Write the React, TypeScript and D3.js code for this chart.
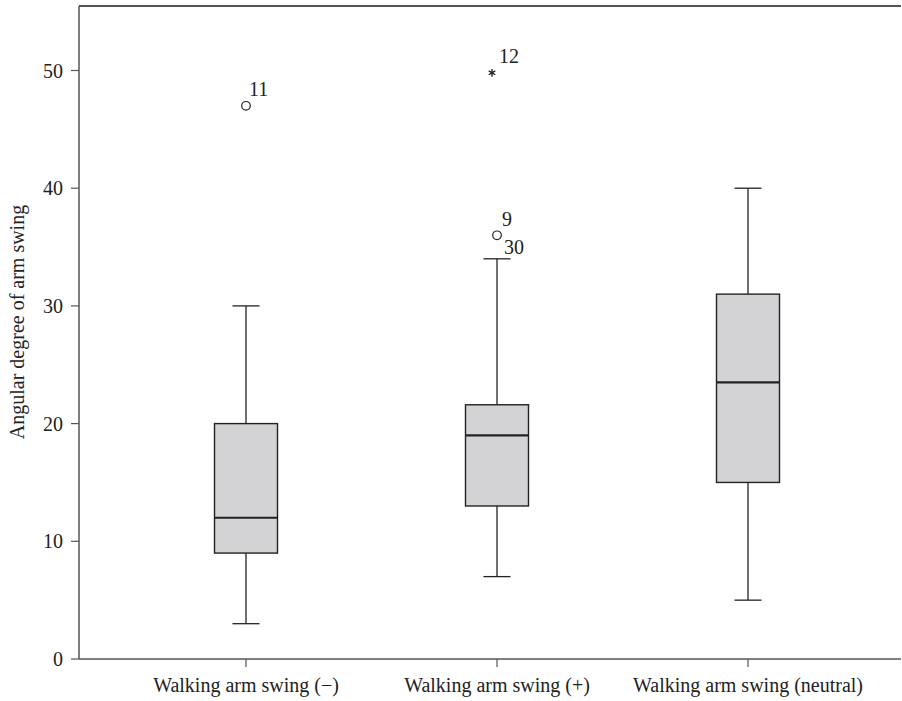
import React from "react";
import * as d3 from "d3";

// Box summaries
const categories = [
  "Walking arm swing (\u2212)",
  "Walking arm swing (+)",
  "Walking arm swing (neutral)",
];
const whiskerLow = [3, 7, 5];
const q1 = [9, 13, 15];
const median = [12, 19, 23.5];
const q3 = [20, 21.6, 31];
const whiskerHigh = [30, 34, 40];

// outliers: category index, value, kind, labels
const outliers = [
  { cat: 0, value: 47, kind: "circle", labels: ["11"] },
  { cat: 1, value: 36, kind: "circle", labels: ["9", "30"] },
  { cat: 1, value: 49.8, kind: "star", labels: ["12"] },
];
const yTicks = [0, 10, 20, 30, 40, 50];

export default function App() {
  const width = 902;
  const height = 701;
  const left = 79;
  const right = 901;
  const top = 6;
  const bottom = 659;
  const font = "'Liberation Serif', 'DejaVu Serif', serif";
  const ink = "#222";
  const axisColor = "#555";
  const fs = 20;

  const y = d3.scaleLinear().domain([0, 50]).range([bottom, bottom - 588.5]);
  const x = d3.scalePoint<string>().domain(categories).range([246, 748]);
  const boxW = 63;
  const capW = 27;

  return (
    <svg
      width={width}
      height={height}
      style={{ position: "absolute", left: 0, top: 0 }}
      fontFamily={font}
    >
      {/* frame: left axis, top line, bottom axis */}
      <line x1={left} y1={top} x2={right} y2={top} stroke={axisColor} strokeWidth={2} />
      <line x1={left} y1={top} x2={left} y2={bottom} stroke={axisColor} strokeWidth={1.5} />
      <line x1={left} y1={bottom} x2={right} y2={bottom} stroke={axisColor} strokeWidth={1.5} />

      {yTicks.map((t) => (
        <g key={t} transform={`translate(${left},${y(t)})`}>
          <line x1={-8} x2={0} stroke={axisColor} strokeWidth={1.2} />
          <text x={-16} dy="0.35em" textAnchor="end" fontSize={fs} fill="#222">
            {t}
          </text>
        </g>
      ))}

      <text
        transform={`translate(24,322) rotate(-90)`}
        textAnchor="middle"
        fontSize={fs}
        fill="#222"
      >
        Angular degree of arm swing
      </text>

      {categories.map((c, i) => {
        const cx = x(c) as number;
        return (
          <g key={c}>
            <line x1={cx} x2={cx} y1={bottom} y2={bottom + 8} stroke={axisColor} strokeWidth={1.2} />
            <text x={cx} y={bottom + 33} textAnchor="middle" fontSize={fs} fill="#222">
              {c}
            </text>
            {/* whiskers */}
            <line x1={cx} x2={cx} y1={y(whiskerLow[i])} y2={y(q1[i])} stroke={ink} strokeWidth={1.3} />
            <line x1={cx} x2={cx} y1={y(q3[i])} y2={y(whiskerHigh[i])} stroke={ink} strokeWidth={1.3} />
            <line x1={cx - capW / 2} x2={cx + capW / 2} y1={y(whiskerLow[i])} y2={y(whiskerLow[i])} stroke={ink} strokeWidth={1.3} />
            <line x1={cx - capW / 2} x2={cx + capW / 2} y1={y(whiskerHigh[i])} y2={y(whiskerHigh[i])} stroke={ink} strokeWidth={1.3} />
            {/* box */}
            <rect
              x={cx - boxW / 2}
              y={y(q3[i])}
              width={boxW}
              height={y(q1[i]) - y(q3[i])}
              fill="#d3d3d5"
              stroke={ink}
              strokeWidth={1.4}
            />
            <line x1={cx - boxW / 2} x2={cx + boxW / 2} y1={y(median[i])} y2={y(median[i])} stroke={ink} strokeWidth={2.2} />
          </g>
        );
      })}

      {outliers.map((o, k) => {
        const cx = x(categories[o.cat]) as number;
        const cy = y(o.value);
        return (
          <g key={k}>
            {o.kind === "circle" ? (
              <circle cx={cx} cy={cy} r={4.3} fill="none" stroke={ink} strokeWidth={1.2} />
            ) : (
              <path
                transform={`translate(${cx - 5},${cy})`}
                d={d3.symbol(d3.symbolAsterisk, 40)() as string}
                stroke={ink}
                strokeWidth={1.4}
                fill="none"
              />
            )}
            {o.labels.length === 1 ? (
              <text x={cx + (o.kind === "star" ? 2 : 3)} y={cy - 10} fontSize={fs} fill="#222">
                {o.labels[0]}
              </text>
            ) : (
              <>
                <text x={cx + 5} y={cy - 9} fontSize={fs} fill="#222">
                  {o.labels[0]}
                </text>
                <text x={cx + 7} y={cy + 19} fontSize={fs} fill="#222">
                  {o.labels[1]}
                </text>
              </>
            )}
          </g>
        );
      })}
    </svg>
  );
}
